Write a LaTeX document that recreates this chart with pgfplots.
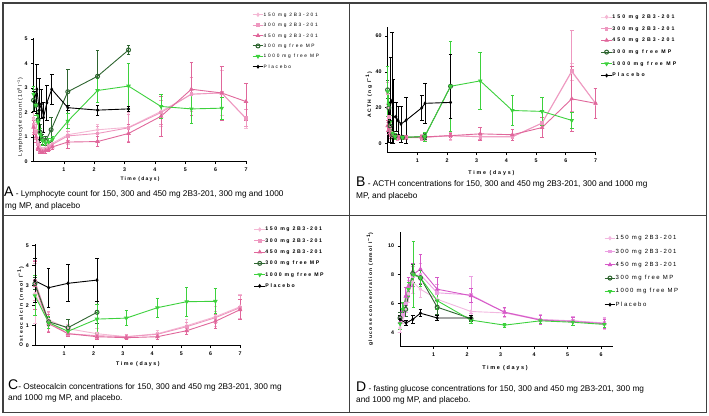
\documentclass[border=0pt]{standalone}
\usepackage{fontspec}
\setmainfont{Liberation Sans}
\usepackage{pgfplots}
\pgfplotsset{compat=1.18}

\newfontfamily\lsa[LetterSpace=15]{Liberation Sans}
\newfontfamily\lsb[LetterSpace=25]{Liberation Sans}
\newfontfamily\lsc[LetterSpace=30]{Liberation Sans}
\newfontfamily\lsd[LetterSpace=35]{Liberation Sans}
\newfontfamily\lse[LetterSpace=40]{Liberation Sans}

\definecolor{pkA}{HTML}{F4B8D4}
\definecolor{pkB}{HTML}{EE98C0}
\definecolor{pkC}{HTML}{E0679B}
\definecolor{gpA}{HTML}{F2B8E0}
\definecolor{gpB}{HTML}{EBA0E2}
\definecolor{gpC}{HTML}{D659C8}
\definecolor{mpdark}{HTML}{2E6530}
\definecolor{mplight}{HTML}{3DD13D}
\definecolor{framegray}{HTML}{404040}

\pgfplotsset{
  prism/.style={
    scale only axis, axis lines=left, axis line style={-, line width=0.8pt},
    tick align=outside, major tick length=2.5pt, tick style={line width=0.7pt, black},
    /pgf/number format/assume math mode=true,
    ticklabel style={font=\fontsize{5.3}{6}\selectfont\bfseries},
    clip=false,
    legend cell align=left,
    legend image code/.code={\draw[mark repeat=2,mark phase=2,##1] plot coordinates {(0pt,0pt) (5.3pt,0pt) (10.6pt,0pt)};},
    every axis plot/.append style={line width=0.9pt, mark size=1.6pt},
    error bars/y dir=both, error bars/y explicit,
    error bars/error bar style={line width=0.8pt},
    error bars/error mark options={rotate=90, line width=0.8pt, mark size=1.8pt},
    legend entries={150 mg 2B3-201, 300 mg 2B3-201, 450 mg 2B3-201, 300 mg free MP, 1000 mg free MP, Placebo},
  },
  s150/.style={color=pkA, mark=diamond*},
  s300/.style={color=pkB, mark=square*, mark size=1.3pt},
  s450/.style={color=pkC, mark=triangle*, mark size=1.8pt},
  d150/.style={color=gpA, mark=diamond*},
  d300/.style={color=gpB, mark=square*, mark size=1.3pt},
  d450/.style={color=gpC, mark=triangle*, mark size=1.8pt},
  smpd/.style={color=mpdark, mark=o, mark size=2pt, mark options={fill=white, line width=1pt}},
  smpl/.style={color=mplight, mark=triangle*, mark options={rotate=180}, mark size=1.8pt},
  spla/.style={color=black, mark=diamond*, mark size=1.3pt},
}

\begin{document}
\begin{tikzpicture}
\useasboundingbox (0pt,0pt) rectangle (709pt,415pt);
\draw[framegray, line width=1.3pt] (3pt,2.7pt) rectangle (706.7pt,412pt);
\draw[framegray, line width=1.3pt] (349.3pt,2.7pt) -- (349.3pt,412pt);
\draw[framegray, line width=1.3pt] (3pt,199.3pt) -- (706.7pt,199.3pt);

% ---------------- A: lymphocytes
\begin{axis}[prism, at={(33.5pt,253.3pt)}, anchor=south west,
  width=213.4pt, height=124pt, xmin=0, xmax=7.03, ymin=0, ymax=5.05,
  xtick={1,...,7}, ytick={0,...,5},
  xlabel={\lsb\bfseries Time (days)}, ylabel={\lsa Lymphocyte count (10\textsuperscript{9} l\textsuperscript{−1})},
  xlabel style={at={(axis description cs:0.499,-0.14)}, anchor=center, font=\fontsize{5}{6}\selectfont},
  ylabel style={at={(axis description cs:-0.063,0.36)}, anchor=center, font=\fontsize{5.3}{6}\selectfont},
  legend style={at={(1.01,1.223)}, anchor=north west, draw=none, fill=none,
    font=\fontsize{4.8}{5}\selectfont\lsd, row sep=5.4pt,
    nodes={inner sep=0pt, text height=4pt, text depth=1pt},
    /tikz/every even column/.append style={column sep=2.7pt}},
]
\addplot[s150] coordinates {(0,1.75)+-(0,0.3) (0.08,1.3)+-(0,0.3) (0.15,0.8)+-(0,0.2) (0.22,0.55)+-(0,0.15) (0.3,0.5)+-(0,0.1) (0.4,0.55)+-(0,0.1) (0.5,0.65)+-(0,0.1) (0.62,0.75)+-(0,0.1) (1.13,1.1)+-(0,0.4) (2.11,1.3)+-(0,0.2) (3.13,1.4)+-(0,0.6) (4.2,2.05)+-(0,0.6) (5.2,2.75)+-(0,0.7) (6.2,2.8)+-(0,0.9) (7.0,1.75)+-(0,0.4)};
\addplot[s300] coordinates {(0,1.5)+-(0,0.3) (0.08,1.2)+-(0,0.3) (0.15,0.7)+-(0,0.2) (0.22,0.5)+-(0,0.1) (0.3,0.45)+-(0,0.1) (0.4,0.5)+-(0,0.1) (0.5,0.6)+-(0,0.1) (0.62,0.7)+-(0,0.1) (1.13,1.05)+-(0,0.2) (2.11,1.15)+-(0,0.3) (3.13,1.38)+-(0,0.55) (4.2,2.0)+-(0,0.5) (5.2,2.75)+-(0,0.7) (6.2,2.8)+-(0,1.1) (7.0,1.77)+-(0,0.35)};
\addplot[s450] coordinates {(0,1.4)+-(0,0.3) (0.08,1.0)+-(0,0.2) (0.15,0.55)+-(0,0.1) (0.22,0.42)+-(0,0.1) (0.3,0.4)+-(0,0.05) (0.4,0.45)+-(0,0.1) (0.5,0.5)+-(0,0.1) (0.62,0.6)+-(0,0.1) (1.13,0.8)+-(0,0.25) (2.11,0.82)+-(0,0.2) (3.13,1.15)+-(0,0.35) (4.2,1.85)+-(0,0.8) (5.2,2.95)+-(0,1.08) (6.2,2.8)+-(0,1.1) (7.0,2.45)+-(0,0.75)};
\addplot[smpd] coordinates {(0,2.5)+-(0,0.45) (0.08,2.3)+-(0,0.4) (0.15,1.7)+-(0,0.4) (0.22,1.2)+-(0,0.3) (0.3,0.9)+-(0,0.2) (0.4,0.85)+-(0,0.2) (0.58,1.3)+-(0,0.5) (1.13,2.85)+-(0,0.9) (2.11,3.48)+-(0,1.05) (3.13,4.55)+-(0,0.2)};
\addplot[smpl] coordinates {(0,2.75)+-(0,0.3) (0.08,2.3)+-(0,0.4) (0.15,1.6)+-(0,0.3) (0.22,1.1)+-(0,0.25) (0.3,0.85)+-(0,0.2) (0.4,0.75)+-(0,0.15) (0.5,0.8)+-(0,0.15) (0.62,0.9)+-(0,0.15) (1.13,1.65)+-(0,0.3) (2.11,2.9)+-(0,0.5) (3.13,3.08)+-(0,0.93) (4.2,2.25)+-(0,0.5) (5.2,2.15)+-(0,0.6) (6.2,2.18)+-(0,0.45)};
\addplot[spla] coordinates {(0.02,2.45)+-(0,0.4) (0.11,2.95)+-(0,1.0) (0.19,2.1)+-(0,1.3) (0.26,2.35)+-(0,0.6) (0.33,1.8)+-(0,0.6) (0.44,2.4)+-(0,0.7) (0.6,2.95)+-(0,0.6) (1.13,2.2)+-(0,0.1) (2.11,2.1)+-(0,0.2) (3.13,2.15)+-(0,0.1)};
\end{axis}

% ---------------- B: ACTH
\begin{axis}[prism, at={(387.6pt,262.3pt)}, anchor=south west,
  width=208.8pt, height=125.7pt, xmin=0, xmax=7.03, ymin=-5, ymax=65,
  xtick={1,...,7}, ytick={0,20,40,60},
  xlabel={\lsd\bfseries Time (days)}, ylabel={\lsc\bfseries ACTH (ng l\textsuperscript{−1})},
  xlabel style={at={(axis description cs:0.497,-0.161)}, anchor=center, font=\fontsize{5.3}{6}\selectfont},
  ylabel style={at={(axis description cs:-0.089,0.459)}, anchor=center, font=\fontsize{5}{6}\selectfont},
  legend style={at={(1.006,1.119)}, anchor=north west, draw=none, fill=none,
    font=\fontsize{5.2}{6}\selectfont\lse\bfseries, row sep=6.2pt,
    nodes={inner sep=0pt, text height=4.2pt, text depth=1.3pt},
    /tikz/every even column/.append style={column sep=5pt}},
]
\addplot[s150] coordinates {(0,20)+-(0,8) (0.04,12)+-(0,5) (0.08,7)+-(0,3) (0.12,5)+-(0,2) (0.17,4.5)+-(0,2) (0.25,4)+-(0,1.5) (0.33,3.8)+-(0,1.5) (0.42,3.5)+-(0,1) (0.5,3.5)+-(0,1) (0.62,3.5)+-(0,1) (1.15,3.5)+-(0,1.5) (1.25,3.8)+-(0,2) (2.12,4.5)+-(0,2.5) (3.12,4)+-(0,2) (4.2,4)+-(0,1) (5.2,11.5)+-(0,3) (6.2,40)+-(0,4.5) (7,22.5)+-(0,8.5)};
\addplot[s300] coordinates {(0,28)+-(0,6) (0.04,15)+-(0,5) (0.08,9)+-(0,3) (0.12,6)+-(0,2) (0.17,5)+-(0,2) (0.25,4)+-(0,1.5) (0.33,3.6)+-(0,1.5) (0.42,3.4)+-(0,1) (0.5,3.4)+-(0,1) (0.62,3.4)+-(0,1) (1.15,3.4)+-(0,1.5) (1.25,3.5)+-(0,2) (2.12,4.5)+-(0,2) (3.12,3.8)+-(0,1.5) (4.2,3.8)+-(0,1) (5.2,11.5)+-(0,3) (6.2,40.5)+-(0,22.5) (7,22.5)+-(0,8.5)};
\addplot[s450] coordinates {(0,10)+-(0,3) (0.04,8)+-(0,3) (0.08,6)+-(0,2) (0.12,5)+-(0,2) (0.17,4.5)+-(0,1.5) (0.25,4)+-(0,1) (0.33,3.8)+-(0,1) (0.42,3.6)+-(0,1) (0.5,3.6)+-(0,1) (0.62,3.6)+-(0,1) (1.15,3.6)+-(0,1) (1.25,3.8)+-(0,1) (2.12,4.5)+-(0,1) (3.12,5.5)+-(0,3.5) (4.2,5)+-(0,3) (5.2,9)+-(0,5.5) (6.2,25)+-(0,18) (7,22.5)+-(0,8.5)};
\addplot[smpd] coordinates {(0,30)+-(0,5) (0.04,20)+-(0,5) (0.08,10)+-(0,3) (0.17,5)+-(0,2) (0.25,4)+-(0,1) (0.5,3.5)+-(0,1) (1.25,4)+-(0,1.5) (2.12,32)+-(0,18)};
\addplot[smpl] coordinates {(0,29)+-(0,14) (0.04,22)+-(0,6) (0.08,12)+-(0,4) (0.17,6)+-(0,2) (0.25,4)+-(0,1.5) (0.5,3.5)+-(0,1) (1.25,4)+-(0,2.5) (2.12,32)+-(0,25) (3.12,35)+-(0,16) (4.2,18.5)+-(0,8.5) (5.2,18)+-(0,8) (6.2,13)+-(0,4.5)};
\addplot[spla] coordinates {(0.04,12)+=(0,10)-=(0,11) (0.1,23)+=(0,25)-=(0,22) (0.15,24)+=(0,38)-=(0,24) (0.2,15)+=(0,21)-=(0,15) (0.28,15)+-(0,8) (0.35,13)+-(0,8) (0.45,11)+-(0,10) (0.62,13)+=(0,13)-=(0,13) (1.15,20)+-(0,7) (1.26,22.5)+-(0,11) (2.12,23)+=(0,27)-=(0,9)};
\end{axis}

% ---------------- C: osteocalcin
\begin{axis}[prism, at={(34.9pt,69.3pt)}, anchor=south west,
  width=206pt, height=101.4pt, xmin=0, xmax=7.03, ymin=0, ymax=5.07,
  xtick={1,...,7}, ytick={0,...,5},
  xlabel={\lsc\bfseries Time (days)}, ylabel={\lsc\bfseries Osteocalcin (nmol l\textsuperscript{−1})},
  xlabel style={at={(axis description cs:0.5,-0.183)}, anchor=center, font=\fontsize{5.3}{6}\selectfont},
  ylabel style={at={(axis description cs:-0.069,0.382)}, anchor=center, font=\fontsize{5}{6}\selectfont},
  legend style={at={(1.048,1.195)}, anchor=north west, draw=none, fill=none,
    font=\fontsize{5.2}{6}\selectfont\lsc\bfseries, row sep=5.8pt,
    nodes={inner sep=0pt, text height=4.2pt, text depth=1.3pt},
    /tikz/every even column/.append style={column sep=5pt}},
]
\addplot[s150] coordinates {(0,2.6)+-(0,1.5) (0.47,1.3)+-(0,0.35) (1.13,0.85)+-(0,0.2) (2.12,0.6)+-(0,0.25) (3.12,0.45)+-(0,0.1) (4.18,0.6)+-(0,0.15) (5.18,1.0)+-(0,0.3) (6.16,1.45)+-(0,0.5) (7,1.95)+-(0,0.6)};
\addplot[s300] coordinates {(0,3.25)+-(0,1.0) (0.47,1.2)+-(0,0.5) (1.13,0.6)+-(0,0.15) (2.12,0.5)+-(0,0.15) (3.12,0.45)+-(0,0.1) (4.18,0.57)+-(0,0.1) (5.18,0.95)+-(0,0.2) (6.16,1.4)+-(0,0.3) (7,1.9)+-(0,0.6)};
\addplot[s450] coordinates {(0,3.0)+-(0,1.2) (0.47,1.1)+-(0,0.45) (1.13,0.6)+-(0,0.12) (2.12,0.45)+-(0,0.12) (3.12,0.4)+-(0,0.08) (4.18,0.45)+-(0,0.12) (5.18,0.75)+-(0,0.2) (6.16,1.22)+-(0,0.35) (7,1.8)+-(0,0.5)};
\addplot[smpd] coordinates {(0,3.1)+-(0,0.3) (0.47,1.2)+-(0,0.2) (1.13,0.9)+-(0,0.4) (2.12,1.67)+-(0,0.55)};
\addplot[smpl] coordinates {(0,2.5)+-(0,1.0) (0.47,1.15)+-(0,0.3) (1.13,0.72)+-(0,0.15) (2.12,1.33)+-(0,0.72) (3.12,1.38)+-(0,0.38) (4.18,1.9)+-(0,0.48) (5.18,2.2)+-(0,0.73) (6.16,2.22)+-(0,0.62)};
\addplot[spla] coordinates {(0,3.25)+-(0,1.1) (0.47,2.9)+-(0,0.97) (1.13,3.12)+-(0,0.93) (2.12,3.28)+-(0,1.08)};
\end{axis}

% ---------------- D: glucose
\begin{axis}[prism, at={(400pt,68.3pt)}, anchor=south west,
  width=213.4pt, height=115pt, xmin=0, xmax=6.37, ymin=3, ymax=11,
  xtick={1,...,6}, ytick={4,6,8,10},
  xlabel={\lsc\bfseries Time (days)}, ylabel={\lsb\bfseries glucose concentration (mmol l\textsuperscript{−1})},
  xlabel style={at={(axis description cs:0.492,-0.188)}, anchor=center, font=\fontsize{5.5}{6}\selectfont},
  ylabel style={at={(axis description cs:-0.141,0.502)}, anchor=center, font=\fontsize{5}{6}\selectfont},
  legend style={at={(0.942,0.989)}, anchor=north west, draw=none, fill=none,
    font=\fontsize{6}{7}\selectfont\lsb, row sep=7.3pt,
    nodes={inner sep=0pt, text height=4.6pt, text depth=1.4pt},
    /tikz/every even column/.append style={column sep=5pt}},
]
\addplot[d150] coordinates {(0,4.3)+-(0,0.3) (0.08,5.0)+-(0,0.4) (0.17,5.6)+-(0,0.5) (0.25,6.7)+-(0,0.6) (0.38,7.5)+-(0,0.8) (0.61,7.0)+-(0,0.6) (1.11,6.3)+-(0,0.5) (2.12,5.45)+-(0,0.6) (3.12,5.35)+-(0,0.3) (4.19,4.85)+-(0,0.3) (5.16,4.8)+-(0,0.3) (6.1,4.6)+-(0,0.4)};
\addplot[d300] coordinates {(0,5.0)+-(0,0.4) (0.08,5.2)+-(0,0.4) (0.17,6.0)+-(0,0.6) (0.25,7.0)+-(0,0.6) (0.38,7.9)+-(0,0.7) (0.61,8.0)+-(0,0.8) (1.11,6.75)+-(0,0.6) (2.12,6.6)+-(0,1.3) (3.12,5.4)+-(0,0.3) (4.19,4.9)+-(0,0.35) (5.16,4.8)+-(0,0.3) (6.1,4.65)+-(0,0.4)};
\addplot[d450] coordinates {(0,4.7)+-(0,0.5) (0.08,5.5)+-(0,0.5) (0.17,6.5)+-(0,0.6) (0.25,7.2)+-(0,0.6) (0.38,8.0)+-(0,0.8) (0.61,8.4)+-(0,1.0) (1.11,7.0)+-(0,0.8) (2.12,6.55)+-(0,0.5) (3.12,5.4)+-(0,0.3) (4.19,4.85)+-(0,0.3) (5.16,4.75)+-(0,0.3) (6.1,4.6)+-(0,0.3)};
\addplot[smpd] coordinates {(0,5.0)+-(0,0.4) (0.17,5.6)+-(0,0.5) (0.38,8.1)+-(0,0.6) (0.61,7.8)+-(0,0.5) (1.11,5.75)+-(0,0.5) (2.12,4.95)+-(0,0.2)};
\addplot[smpl] coordinates {(0,4.6)+-(0,0.4) (0.08,5.6)+-(0,0.5) (0.25,7.0)+-(0,0.5) (0.4,8.0)+-(0,2.3) (0.61,7.8)+-(0,0.6) (1.11,6.2)+-(0,0.6) (2.12,4.85)+-(0,0.2) (3.12,4.5)+-(0,0.15) (4.19,4.8)+-(0,0.2) (5.16,4.7)+-(0,0.2) (6.1,4.55)+-(0,0.2)};
\addplot[spla] coordinates {(0,4.9)+-(0,0.3) (0.18,4.65)+-(0,0.15) (0.38,4.9)+-(0,0.3) (0.61,5.33)+-(0,0.25) (1.11,5.0)+-(0,0.2) (2.12,5.0)+-(0,0.15)};
\end{axis}

% captions
\node[anchor=base west, inner sep=0pt, font=\fontsize{8.3}{10}\selectfont] at (4pt,218.5pt) {{\fontsize{14}{14}\selectfont A} - Lymphocyte count for 150, 300 and 450 mg 2B3-201, 300 mg and 1000};
\node[anchor=base west, inner sep=0pt, font=\fontsize{8.3}{10}\selectfont] at (5pt,206pt) {mg MP, and placebo};
\node[anchor=base west, inner sep=0pt, font=\fontsize{8.3}{10}\selectfont] at (356pt,228pt) {{\fontsize{14}{14}\selectfont B} - ACTH concentrations for 150, 300 and 450 mg 2B3-201, 300 and 1000 mg};
\node[anchor=base west, inner sep=0pt, font=\fontsize{8.3}{10}\selectfont] at (356pt,216pt) {MP, and placebo};
\node[anchor=base west, inner sep=0pt, font=\fontsize{8.3}{10}\selectfont] at (8pt,26pt) {{\fontsize{14}{14}\selectfont C}- Osteocalcin concentrations for 150, 300 and 450 mg 2B3-201, 300 mg};
\node[anchor=base west, inner sep=0pt, font=\fontsize{8.3}{10}\selectfont] at (8pt,15pt) {and 1000 mg MP, and placebo.};
\node[anchor=base west, inner sep=0pt, font=\fontsize{8.3}{10}\selectfont] at (356pt,24pt) {{\fontsize{14}{14}\selectfont D} - fasting glucose concentrations for 150, 300 and 450 mg 2B3-201, 300 mg};
\node[anchor=base west, inner sep=0pt, font=\fontsize{8.3}{10}\selectfont] at (356pt,13pt) {and 1000 mg MP, and placebo.};
\end{tikzpicture}
\end{document}
